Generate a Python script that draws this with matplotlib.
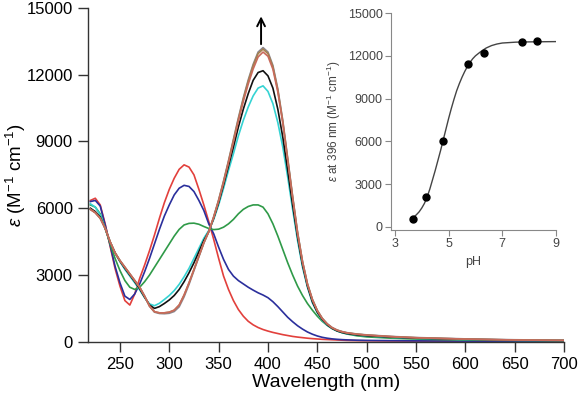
import matplotlib
matplotlib.use("Agg")
import matplotlib.pyplot as plt

plt.rcParams['font.family'] = ['Liberation Sans', 'DejaVu Sans']
plt.rcParams['mathtext.fontset'] = 'custom'
plt.rcParams['mathtext.rm'] = 'Liberation Sans'
plt.rcParams['mathtext.it'] = 'Liberation Sans:italic'

# wavelength grid (nm)
wavelength = [220, 225, 230, 235, 240, 245, 250, 255, 260, 265, 270, 275, 280, 285, 290,
              295, 300, 305, 310, 315, 320, 325, 330, 335, 340, 345, 350, 355, 360, 365,
              370, 375, 380, 385, 390, 395, 400, 405, 410, 415, 420, 425, 430, 435, 440,
              445, 450, 455, 460, 465, 470, 475, 480, 490, 500, 525, 550, 600, 650, 700]

# molar absorptivity spectra (M^-1 cm^-1), one per pH
eps_red = [6350, 6450, 6150, 5300, 4300, 3300, 2500, 1850, 1650, 2150, 2850, 3450, 4100, 4800, 5550,
           6250, 6850, 7350, 7750, 7950, 7850, 7500, 6850, 6150, 5400, 4600, 3750, 2950, 2350, 1850,
           1450, 1150, 920, 760, 640, 550, 480, 420, 370, 320, 280, 240, 210, 185, 160,
           140, 125, 110, 100, 90, 80, 70, 60, 50, 45, 35, 30, 25, 20, 20]
eps_blue = [6300, 6350, 6100, 5250, 4350, 3400, 2650, 2050, 1900, 2150, 2600, 3150, 3750, 4400, 5050,
            5650, 6150, 6600, 6900, 7030, 6980, 6750, 6350, 5900, 5300, 4850, 4250, 3700, 3250, 2950,
            2750, 2600, 2450, 2320, 2200, 2100, 1980, 1800, 1580, 1340, 1100, 900, 720, 570, 440,
            340, 260, 200, 160, 130, 110, 95, 85, 70, 60, 50, 40, 30, 25, 20]
eps_green = [6150, 6050, 5750, 5100, 4400, 3750, 3200, 2750, 2450, 2350, 2450, 2700, 3000, 3350, 3700,
             4050, 4400, 4750, 5050, 5250, 5320, 5330, 5280, 5180, 5090, 5040, 5060, 5150, 5300, 5500,
             5750, 5950, 6080, 6150, 6150, 6050, 5750, 5300, 4750, 4150, 3550, 3000, 2500, 2080, 1720,
             1420, 1150, 920, 740, 600, 490, 410, 350, 270, 220, 160, 120, 80, 60, 50]
eps_cyan = [6200, 6050, 5700, 5100, 4480, 4000, 3600, 3250, 2950, 2650, 2330, 1980, 1700, 1620, 1730,
            1900, 2080, 2300, 2580, 2920, 3300, 3750, 4200, 4650, 5000, 5500, 6150, 6900, 7700, 8450,
            9250, 9950, 10550, 11050, 11400, 11500, 11250, 10700, 9850, 8750, 7400, 5950, 4550, 3350, 2450,
            1750, 1300, 970, 740, 590, 480, 410, 360, 300, 260, 200, 150, 100, 70, 50]
eps_black = [6000, 5850, 5600, 5100, 4480, 4000, 3620, 3300, 3000, 2700, 2380, 2000, 1650, 1500, 1580,
             1720, 1880, 2080, 2350, 2700, 3100, 3550, 4050, 4550, 4950, 5550, 6250, 7050, 7900, 8750,
             9650, 10450, 11150, 11750, 12100, 12180, 11950, 11400, 10450, 9200, 7700, 6150, 4700, 3450, 2500,
             1800, 1330, 1000, 760, 600, 490, 420, 370, 310, 270, 210, 160, 110, 75, 55]
eps_salmon = [5950, 5800, 5550, 5100, 4500, 4000, 3650, 3350, 3050, 2750, 2450, 2050, 1600, 1350, 1300,
              1300, 1330, 1420, 1650, 2100, 2650, 3250, 3850, 4450, 4950, 5600, 6330, 7150, 8050, 8980,
              9920, 10800, 11580, 12260, 12800, 13020, 12830, 12250, 11220, 9830, 8150, 6460, 4870, 3580, 2590,
              1890, 1390, 1040, 800, 630, 520, 450, 400, 340, 300, 230, 180, 120, 80, 60]
eps_brown = [5950, 5800, 5550, 5100, 4500, 4000, 3650, 3350, 3050, 2750, 2450, 2050, 1600, 1350, 1300,
             1300, 1330, 1420, 1650, 2100, 2650, 3250, 3850, 4450, 4950, 5600, 6350, 7200, 8100, 9050,
             10000, 10900, 11700, 12400, 12950, 13150, 12950, 12350, 11300, 9900, 8200, 6500, 4900, 3600, 2600,
             1900, 1400, 1050, 800, 630, 520, 450, 400, 340, 300, 230, 180, 120, 80, 60]
eps_gray = [5950, 5800, 5550, 5100, 4500, 4000, 3650, 3350, 3050, 2750, 2450, 2050, 1600, 1330, 1270,
            1260, 1280, 1360, 1570, 2020, 2580, 3200, 3820, 4430, 4950, 5620, 6380, 7230, 8140, 9100,
            10060, 10960, 11770, 12470, 13020, 13220, 13020, 12420, 11360, 9950, 8250, 6540, 4930, 3620, 2610,
            1910, 1410, 1060, 810, 640, 530, 460, 410, 350, 310, 240, 190, 130, 90, 70]

spectra = [eps_red, eps_blue, eps_green, eps_cyan, eps_black, eps_gray, eps_brown, eps_salmon]
colors = ['#e2403c', '#2b2f9c', '#2f9a48', '#35d3d3', '#111111', '#8c8690', '#a5804c', '#c86a5c']

# titration (inset)
ph_points = [3.68, 4.17, 4.79, 5.74, 6.33, 7.75, 8.29]
eps_points = [520, 2110, 6050, 11460, 12190, 12970, 13030]
ph_fit = [3.7, 3.8, 3.9, 4.0, 4.1, 4.2, 4.3, 4.4, 4.5, 4.6, 4.7, 4.8, 4.9, 5.0, 5.1, 5.2, 5.3,
          5.4, 5.5, 5.6, 5.7, 5.8, 5.9, 6.0, 6.2, 6.4, 6.6, 6.8, 7.0, 7.5, 8.0, 8.5, 9.0]
eps_fit = [680, 850, 1050, 1320, 1650, 2100, 2650, 3300, 3950, 4650, 5350, 6100, 6850, 7600, 8300,
           8950, 9550, 10050, 10500, 10900, 11250, 11550, 11800, 12000, 12300, 12550, 12720, 12830,
           12900, 12960, 12980, 12990, 13000]

fig = plt.figure(figsize=(5.8, 4.03), dpi=100)
ax = fig.add_axes([0.1517, 0.1514, 0.8207, 0.8288])

for y, c in zip(spectra, colors):
    ax.plot(wavelength, y, color=c, lw=1.2)

ax.annotate('', xy=(393, 14750), xytext=(393, 13250),
            arrowprops=dict(arrowstyle='->', color='k', lw=1.4, mutation_scale=14))

ax.set_xlim(217.6, 700)
ax.set_ylim(-10, 15000)
ax.set_xticks(range(250, 701, 50))
ax.set_yticks(range(0, 15001, 3000))
ax.spines['top'].set_visible(False)
ax.spines['right'].set_visible(False)
for s in ['left', 'bottom']:
    ax.spines[s].set_color('#333333')
    ax.spines[s].set_linewidth(1.0)
ax.tick_params(direction='out', length=7, width=1.0, color='#333333', labelsize=12, pad=4)
ax.set_xlabel('Wavelength (nm)', fontsize=14, labelpad=1)
ax.set_ylabel(r'$\it{\varepsilon}$ (M$^{-1}$ cm$^{-1}$)', fontsize=13.5)
ax.yaxis.set_label_coords(-0.125, 0.5)

# inset
ins = fig.add_axes([0.674, 0.429, 0.2845, 0.5385])
ins.plot(ph_fit, eps_fit, color='#444444', lw=1.0)
ins.plot(ph_points, eps_points, 'o', color='black', ms=5)
ins.set_xlim(2.85, 9.0)
ins.set_ylim(-230, 15000)
ins.set_xticks([3, 5, 7, 9])
ins.set_yticks(range(0, 15001, 3000))
ins.spines['top'].set_visible(False)
ins.spines['right'].set_visible(False)
for s in ['left', 'bottom']:
    ins.spines[s].set_color('#888888')
ins.tick_params(direction='out', length=4, color='#888888', labelcolor='#444444', labelsize=9, pad=2)
ins.set_xlabel('pH', fontsize=9, color='#444444', labelpad=4)
ins.set_ylabel(r'$\it{\varepsilon}$ at 396 nm (M$^{-1}$ cm$^{-1}$)', fontsize=8.5, color='#444444', labelpad=3)
ins.patch.set_alpha(0)

fig.savefig('out.png', dpi=100)
plt.close(fig)
